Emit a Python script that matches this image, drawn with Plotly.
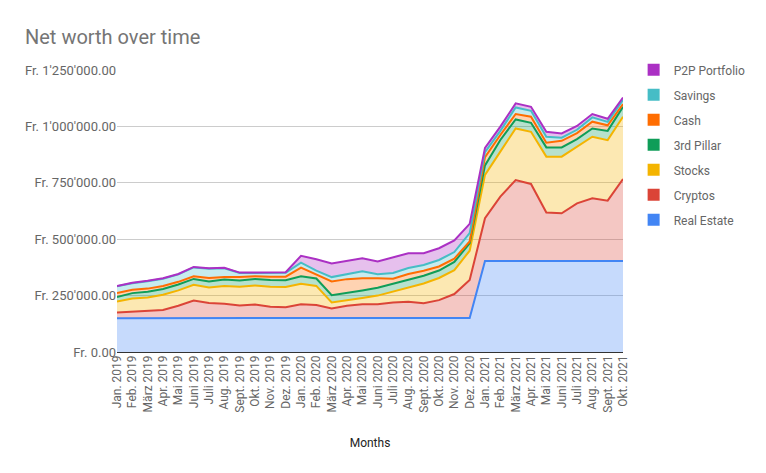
import plotly.graph_objects as go

months = ["Jan. 2019", "Feb. 2019", "März 2019", "Apr. 2019", "Mai 2019", "Juni 2019",
          "Juli 2019", "Aug. 2019", "Sept. 2019", "Okt. 2019", "Nov. 2019", "Dez. 2019",
          "Jan. 2020", "Feb. 2020", "März 2020", "Apr. 2020", "Mai 2020", "Juni 2020",
          "Juli 2020", "Aug. 2020", "Sept. 2020", "Okt. 2020", "Nov. 2020", "Dez. 2020",
          "Jan. 2021", "Feb. 2021", "März 2021", "Apr. 2021", "Mai 2021", "Juni 2021",
          "Juli 2021", "Aug. 2021", "Sept. 2021", "Okt. 2021"]

real_estate = [150000]*12 + [151000]*12 + [403000]*10
cryptos = [25000, 28000, 30000, 36000, 55000, 78000, 67000, 64000, 56000, 60000, 51000, 48000,
           61000, 57000, 42000, 54000, 61000, 61000, 68000, 72000, 65000, 79000, 106000, 168000,
           190000, 286000, 359000, 342000, 215000, 212000, 256000, 278000, 268000, 364000]
stocks = [49000, 59000, 62000, 68000, 68000, 70000, 69000, 79000, 83000, 85000, 88000, 90000,
          90000, 85000, 27000, 23000, 27000, 38000, 48000, 62000, 88000, 98000, 106000, 130000,
          192000, 199000, 229000, 231000, 248000, 251000, 251000, 273000, 268000, 276000]
pillar3 = [20000, 24000, 25000, 25000, 26000, 26000, 27000, 28000, 28000, 29000, 30000, 30000,
           34000, 33000, 32000, 33000, 34000, 35000, 36000, 35000, 34000, 33000, 36000, 33000,
           42000, 52000, 40000, 40000, 41000, 41000, 34000, 37000, 41000, 44000]
cash = [17000, 15000, 14000, 14000, 12000, 12000, 15000, 12000, 15000, 12000, 15000, 16000,
        38000, 16000, 61000, 62000, 54000, 42000, 22000, 26000, 22000, 18000, 15000, 8000,
        37000, 22000, 24000, 27000, 21000, 29000, 26000, 30000, 25000, 12000]
savings = [30000, 29000, 33000, 32000, 33000, 39000, 41000, 38000, 18000, 14000, 15000, 17000,
           22000, 19000, 19000, 23000, 31000, 18000, 25000, 26000, 26000, 29000, 29000, 37000,
           22000, 18000, 29000, 26000, 26000, 14000, 15000, 19000, 15000, 18000]
p2p = [2000]*11 + [3000,
       30000, 50000, 60000, 59000, 58000, 56000, 68000, 66000, 52000, 52000, 52000, 41000,
       19000, 19000, 18000, 18000, 22000, 19000, 17000, 15000, 14000, 11000]

series = [
    ("Real Estate", real_estate, "#4285F4"),
    ("Cryptos", cryptos, "#DB4437"),
    ("Stocks", stocks, "#F4B400"),
    ("3rd Pillar", pillar3, "#0F9D58"),
    ("Cash", cash, "#FF6D01"),
    ("Savings", savings, "#46BDC6"),
    ("P2P Portfolio", p2p, "#AB30C4"),
]

y_ticks = [0, 250000, 500000, 750000, 1000000, 1250000]
y_labels = ["Fr. 0.00", "Fr. 250'000.00", "Fr. 500'000.00", "Fr. 750'000.00",
            "Fr. 1'000'000.00", "Fr. 1'250'000.00"]


def rgba(hex_color, a):
    h = hex_color.lstrip("#")
    r, g, b = int(h[0:2], 16), int(h[2:4], 16), int(h[4:6], 16)
    return f"rgba({r},{g},{b},{a})"


fig = go.Figure()
x_idx = list(range(len(months)))
for name, vals, color in series:
    fig.add_trace(go.Scatter(
        x=x_idx, y=vals, name=name, mode="lines",
        stackgroup="one", line=dict(color=color, width=2),
        fillcolor=rgba(color, 0.3), showlegend=False, hoverinfo="x+y+name",
    ))

# legend entries with square swatches, top-to-bottom P2P ... Real Estate
for rank, (name, vals, color) in enumerate(reversed(series)):
    fig.add_trace(go.Scatter(
        x=[None], y=[None], name=name, mode="markers",
        marker=dict(symbol="square", size=12, color=color),
        legendgroup=name, legendrank=rank + 1, showlegend=True,
    ))

fig.update_layout(
    width=758, height=465,
    margin=dict(l=109, r=143, t=62, b=121),
    paper_bgcolor="white", plot_bgcolor="white",
    font=dict(family="Roboto", size=12, color="#444444"),
    title=dict(text="Net worth over time", x=17/758, xref="container", xanchor="left",
               y=1-29/465, yref="container", yanchor="middle",
               font=dict(family="Roboto", size=20, color="#757575")),
    legend=dict(x=1.021, xanchor="left", y=1.052, yanchor="top",
                traceorder="grouped", tracegroupgap=6, itemwidth=30,
                font=dict(family="Roboto", size=12, color="#666666")),
    showlegend=True,
)
fig.update_xaxes(
    tickmode="array", tickvals=x_idx, ticktext=months,
    tickangle=-90, range=[0, len(months)-1], showgrid=False,
    showline=False, zeroline=False, ticks="",
    tickfont=dict(size=12, color="#666666"),
    title=dict(text="Months", font=dict(size=12, color="#222222"), standoff=26),
)
fig.update_yaxes(
    tickmode="array", tickvals=y_ticks, ticktext=y_labels, range=[0, 1250000],
    showgrid=True, gridcolor="#cccccc", gridwidth=1, zeroline=True,
    zerolinecolor="#333333", zerolinewidth=1, ticks="",
    tickfont=dict(size=13, color="#666666"),
)

fig.write_html("out.html")
